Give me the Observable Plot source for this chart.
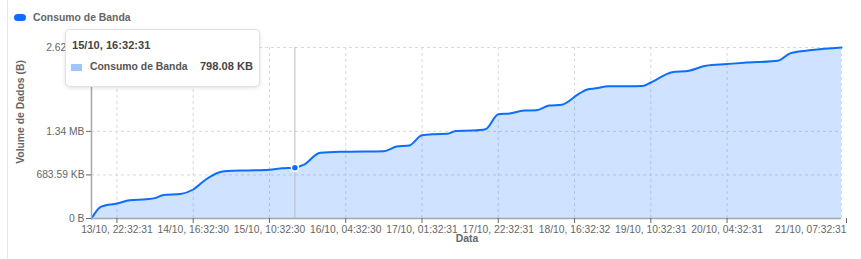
<!DOCTYPE html>
<html>
<head>
<meta charset="utf-8">
<script src="https://cdn.jsdelivr.net/npm/d3@7"></script>
<script src="https://cdn.jsdelivr.net/npm/@observablehq/plot@0.6"></script>
<style>
  html, body { margin: 0; padding: 0; background: #fff; }
  body { width: 861px; height: 259px; position: relative; overflow: hidden; font-family: "Liberation Sans", Arial, Helvetica, sans-serif; }
  #chart { position: absolute; left: 0; top: 0; }
  .card { position: absolute; left: 7px; top: 0; height: 259px; border-left: 1px solid #e6e6e6; }
  .legend { position: absolute; left: 14px; top: 12px; font-size: 10.4px; font-weight: bold; color: #666; display: flex; align-items: center; }
  .legend .pill { width: 12px; height: 7px; border-radius: 4px; background: #0d6efd; margin-right: 7px; }
  .ytitle { position: absolute; left: 20px; top: 112px; transform: translate(-50%, -50%) rotate(-90deg); font-size: 10.4px; font-weight: bold; color: #666; white-space: nowrap; }
  .xtitle { position: absolute; left: 467px; top: 233px; transform: translateX(-50%); font-size: 10.4px; font-weight: bold; color: #666; }
  .tip { position: absolute; left: 65px; top: 29px; width: 195px; height: 58px; background: #fff; border: 1px solid #e2e2e2; border-radius: 5px; box-shadow: 0 1px 4px rgba(0,0,0,0.12); box-sizing: border-box; }
  .tip .t { position: absolute; left: 6px; top: 9px; font-size: 11.1px; font-weight: bold; color: #444; }
  .tip .sw { position: absolute; left: 5px; top: 34px; width: 11px; height: 7px; background: #a0c4ff; }
  .tip .lab { position: absolute; left: 24px; top: 31px; font-size: 10.4px; font-weight: bold; color: #555; }
  .tip .val { position: absolute; right: 6px; top: 30px; font-size: 11.1px; font-weight: bold; color: #444; }
</style>
</head>
<body>
<div id="chart"></div>
<div class="card"></div>
<div class="legend"><span class="pill"></span><span id="legendText"></span></div>
<div class="ytitle" id="ytitle"></div>
<div class="xtitle" id="xtitle"></div>
<div class="tip"><div class="t" id="tipTitle"></div><div class="sw"></div><div class="lab" id="tipLabel"></div><div class="val" id="tipValue"></div></div>
<script>
const seriesName = "Consumo de Banda";
const yTitle = "Volume de Dados (B)";
const xTitle = "Data";

// x tick positions (point index) and their labels
const tickIdx = [6, 24, 42, 60, 78, 96, 114, 132, 150, 177];
const tickLabels = ["13/10, 22:32:31", "14/10, 16:32:30", "15/10, 10:32:30", "16/10, 04:32:30", "17/10, 01:32:31", "17/10, 22:32:31", "18/10, 16:32:32", "19/10, 10:32:31", "20/10, 04:32:31", "21/10, 07:32:31"];

// y ticks in KB and their labels
const yTicks = [0, 683.59, 1367.19, 2682.88];
const yTickLabels = ["0 B", "683.59 KB", "1.34 MB", "2.62 MB"];

// series: point index and cumulative consumption (KB)
const pointIdx = [0, 2, 3, 5, 6, 9, 13, 15, 17, 21, 24, 27, 30, 32, 37, 42, 45, 48, 50, 54, 60, 69, 72, 75, 78, 81, 84, 86, 90, 93, 96, 99, 102, 105, 108, 111, 115, 117, 119, 122, 130, 132, 137, 141, 145, 150, 154, 162, 165, 170, 177];
const consumoKB = [0, 175, 200, 224, 235, 288, 302, 320, 370, 385, 455, 612, 722, 744, 755, 766, 788, 798.08, 840, 1032, 1048, 1057, 1128, 1146, 1307, 1323, 1329, 1374, 1380, 1401, 1636, 1651, 1693, 1698, 1772, 1784, 1955, 2025, 2042, 2073, 2080, 2134, 2296, 2319, 2397, 2423, 2444, 2475, 2595, 2642, 2682.88];

// hovered point
const hoverIdx = 48;
const hoverTitle = "15/10, 16:32:31";
const hoverValue = "798.08 KB";

const data = pointIdx.map((i, k) => ({i, v: consumoKB[k]}));
const hover = data.filter(d => d.i === hoverIdx);

const xFmt = i => tickLabels[tickIdx.indexOf(i)];
const yFmt = v => yTickLabels[yTicks.indexOf(v)];

const lineColor = "#0d6efd";
const gridStyle = {stroke: "#d9d9d9", strokeOpacity: 1, strokeDasharray: "3,3"};
const tickFont = 10.3;

const chart = Plot.plot({
  width: 861,
  height: 259,
  marginLeft: 91,
  marginRight: 20,
  marginTop: 47,
  marginBottom: 41,
  style: {fontFamily: "Liberation Sans, Arial, Helvetica, sans-serif", fontSize: "10.3px", background: "transparent"},
  x: {type: "linear", domain: [0, 177]},
  y: {domain: [0, 2682.88]},
  marks: [
    Plot.gridX(tickIdx, gridStyle),
    Plot.gridY(yTicks, gridStyle),
    Plot.areaY(data, {x: "i", y: "v", curve: "monotone-x", fill: lineColor, fillOpacity: 0.2}),
    Plot.lineY(data, {x: "i", y: "v", curve: "monotone-x", stroke: lineColor, strokeWidth: 2}),
    Plot.ruleX([hoverIdx], {stroke: "#bdbdbd", strokeWidth: 1}),
    Plot.ruleX([0], {stroke: "#a6a6a6", strokeWidth: 1.5}),
    Plot.ruleY([0], {stroke: "#a6a6a6", strokeWidth: 1.5}),
    Plot.axisY(yTicks, {tickFormat: yFmt, tickSize: 5, tickPadding: 2, fontSize: tickFont, color: "#666", label: null}),
    Plot.axisX(tickIdx.slice(0, -1), {tickFormat: xFmt, tickSize: 5, tickPadding: 2, fontSize: tickFont, color: "#666", label: null}),
    Plot.axisX(tickIdx.slice(-1), {tickFormat: xFmt, tickSize: 5, tickPadding: 2, fontSize: tickFont, color: "#666", label: null, textAnchor: "end", dx: 5}),
    Plot.dot(hover, {x: "i", y: "v", r: 3.5, fill: lineColor, stroke: "white", strokeWidth: 1.5})
  ]
});
document.getElementById("chart").append(chart);
document.getElementById("legendText").textContent = seriesName;
document.getElementById("ytitle").textContent = yTitle;
document.getElementById("xtitle").textContent = xTitle;
document.getElementById("tipTitle").textContent = hoverTitle;
document.getElementById("tipLabel").textContent = seriesName;
document.getElementById("tipValue").textContent = hoverValue;
</script>
</body>
</html>
